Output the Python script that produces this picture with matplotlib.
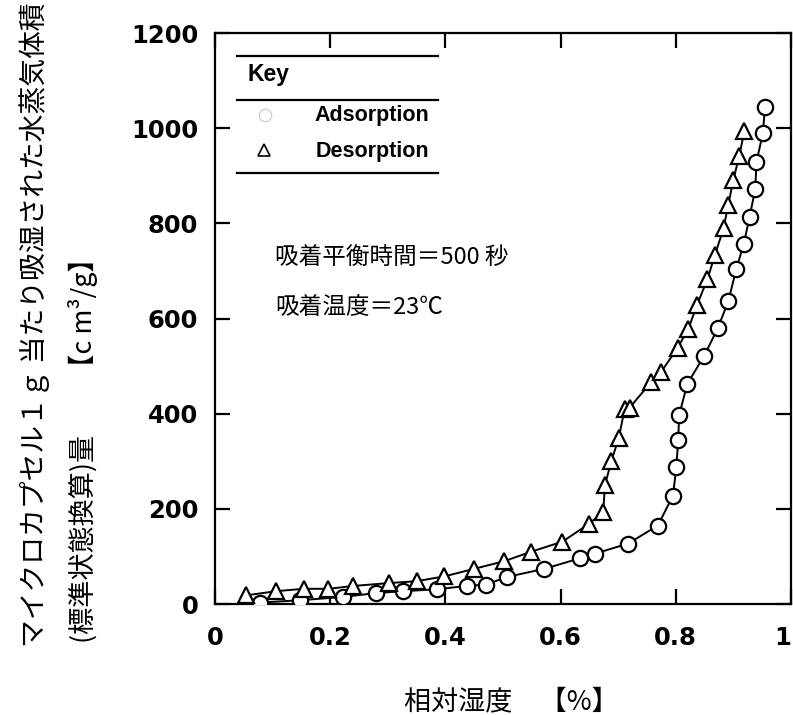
import matplotlib
matplotlib.use("Agg")
import matplotlib.pyplot as plt

# 吸着 (Adsorption) / 脱着 (Desorption) の読み取り値
ads_rh = [0.078, 0.148, 0.223, 0.279, 0.327, 0.385, 0.437, 0.471, 0.507, 0.572,
          0.633, 0.660, 0.717, 0.769, 0.795, 0.801, 0.804, 0.806, 0.820, 0.849,
          0.873, 0.891, 0.905, 0.918, 0.928, 0.938, 0.940, 0.951, 0.955]
ads_vol = [3, 8, 15, 23, 27, 31, 38, 41, 57, 74,
           96, 106, 127, 165, 228, 287, 345, 398, 463, 521,
           580, 636, 704, 757, 813, 873, 929, 989, 1045]

des_rh = [0.053, 0.106, 0.154, 0.197, 0.240, 0.302, 0.350, 0.398, 0.450, 0.502,
          0.549, 0.603, 0.650, 0.674, 0.677, 0.688, 0.701, 0.711, 0.720, 0.757,
          0.774, 0.803, 0.822, 0.837, 0.855, 0.868, 0.883, 0.891, 0.900, 0.910,
          0.919]
des_vol = [18, 27, 32, 32, 38, 44, 48, 58, 74, 90,
           110, 131, 169, 194, 250, 300, 349, 409, 413, 466,
           487, 538, 579, 629, 683, 734, 790, 839, 892, 941,
           994]

x_ticks = [0, 0.2, 0.4, 0.6, 0.8, 1]
x_ticklabels = ["0", "0.2", "0.4", "0.6", "0.8", "1"]
y_ticks = [0, 200, 400, 600, 800, 1000, 1200]

ylabel_1 = "マイクロカプセル１ｇ 当たり吸湿された水蒸気体積"
ylabel_2 = "(標準状態換算)量　　【c m³/g】"
xlabel = "相対湿度　【%】"
note_1 = "吸着平衡時間＝500 秒"
note_2 = "吸着温度＝23℃"

cjk = ["Noto Sans CJK JP", "DejaVu Sans"]

fig = plt.figure(figsize=(7.93, 7.15), dpi=100)
ax = fig.add_axes([0.2711, 0.1552, 0.7264, 0.7986])

ax.plot(ads_rh, ads_vol, color="black", lw=1.4, marker="o", ms=11,
        mfc="white", mec="black", mew=1.6, zorder=3)
ax.plot(des_rh, des_vol, color="black", lw=1.4, marker="^", ms=11,
        mfc="white", mec="black", mew=1.6, zorder=3)

ax.set_xlim(0, 1)
ax.set_ylim(0, 1200)
ax.set_xticks(x_ticks)
ax.set_xticklabels(x_ticklabels)
ax.set_yticks(y_ticks)
for s in ax.spines.values():
    s.set_linewidth(1.6)
ax.tick_params(direction="in", length=11, width=1.6, top=True, right=True,
               labelsize=17.5)
ax.tick_params(axis="x", pad=16)
ax.tick_params(axis="y", pad=12)
for lab in ax.get_xticklabels() + ax.get_yticklabels():
    lab.set_fontweight("bold")
    lab.set_family("DejaVu Sans")
# 右端の「1」が切れないように右寄せ
ax.get_xticklabels()[-1].set_horizontalalignment("right")

# Key box
for yy in [0.960, 0.883, 0.755]:
    ax.plot([0.038, 0.387], [yy, yy], transform=ax.transAxes, color="black",
            lw=1.6, clip_on=False)
ax.text(0.057, 0.928, "Key", transform=ax.transAxes, fontsize=16.5,
        family="Liberation Sans", fontweight="bold", va="center", ha="left")
ax.plot([0.087], [0.856], transform=ax.transAxes, marker="o", ms=9,
        mfc="none", mec="#c8c8c8", mew=0.8, ls="none")
ax.plot([0.085], [0.795], transform=ax.transAxes, marker="^", ms=8,
        mfc="white", mec="black", mew=1.2, ls="none")
ax.text(0.372, 0.856, "Adsorption", transform=ax.transAxes, fontsize=15.5,
        family="Liberation Sans", fontweight="bold", va="center", ha="right")
ax.text(0.372, 0.792, "Desorption", transform=ax.transAxes, fontsize=15.5,
        family="Liberation Sans", fontweight="bold", va="center", ha="right")

ax.text(0.104, 0.606, note_1, transform=ax.transAxes, fontsize=17,
        family=cjk, va="center", ha="left")
ax.text(0.104, 0.520, note_2, transform=ax.transAxes, fontsize=17,
        family=cjk, va="center", ha="left")

fig.text(0.0441, 0.0951, ylabel_1, rotation=90, fontsize=20, family=cjk,
         ha="center", va="bottom")
fig.text(0.1047, 0.1007, ylabel_2, rotation=90, fontsize=19.5, family=cjk,
         ha="center", va="bottom")
fig.text(0.509, 0.018, xlabel, fontsize=19.5, family=cjk,
         ha="left", va="center")

fig.savefig("out.png", dpi=100)
